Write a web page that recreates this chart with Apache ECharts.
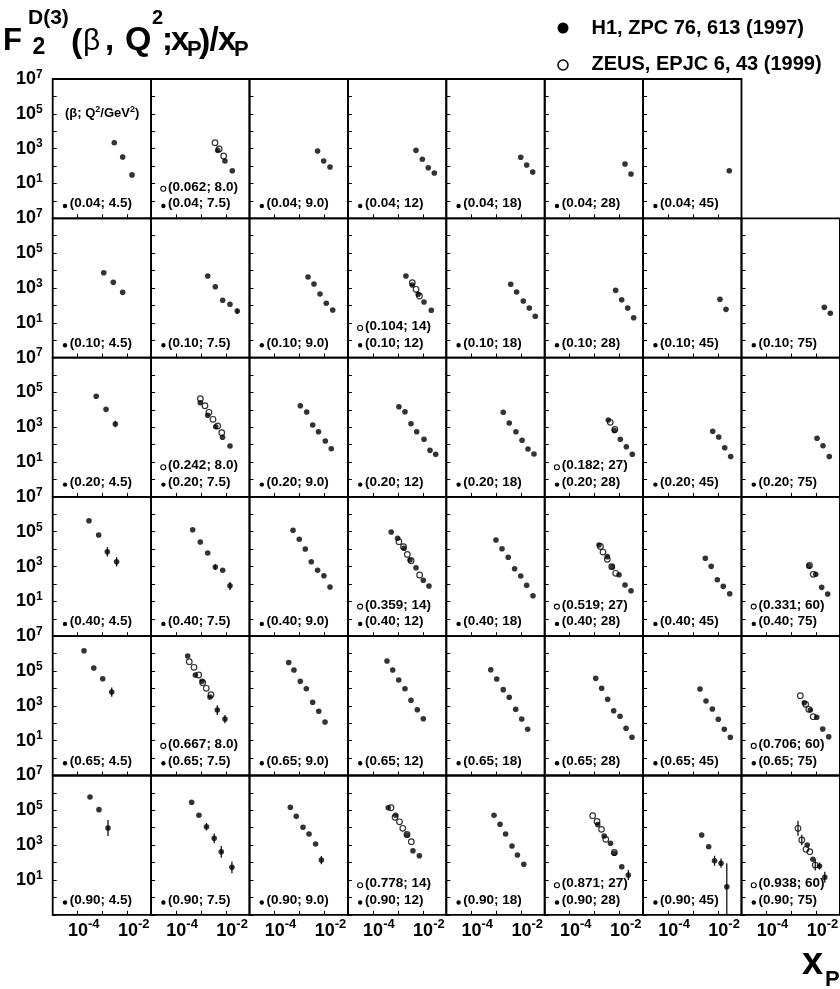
<!DOCTYPE html>
<html><head><meta charset="utf-8">
<script src="https://cdn.jsdelivr.net/npm/echarts/dist/echarts.min.js"></script>
<style>html,body{margin:0;padding:0;background:#fff}#c{width:840px;height:989px}</style>
</head><body><div id="c"></div>
<script>
// ---------------- data ----------------
const BETA = ['0.04','0.10','0.20','0.40','0.65','0.90'];
const Q2   = ['4.5','7.5','9.0','12','18','28','45','75'];
const X_TICK_LABELS = [-4, -2];          // exponents labelled on x
const Y_TICK_LABELS = [7, 5, 3, 1];      // exponents labelled on y

// H1 points [x_P, F2D3/x_P], panel rRcC = row (beta) R, column (Q2) C
const H1_r0c0 = [[2.9e-3,2.2e3],[6.3e-3,330],[1.49e-2,31]];
const H1_r0c1 = [[4.6e-3,800],[9.0e-3,195],[1.77e-2,54]];
const H1_r0c2 = [[5.3e-3,730],[9.3e-3,195],[1.66e-2,88]];
const H1_r0c3 = [[5.3e-3,800],[9.5e-3,244],[1.64e-2,80],[2.86e-2,40]];
const H1_r0c4 = [[9.5e-3,318],[1.64e-2,115],[2.86e-2,45]];
const H1_r0c5 = [[1.63e-2,131],[2.83e-2,35]];
const H1_r0c6 = [[2.8e-2,54]];

const H1_r1c0 = [[1.1e-3,7.5e3],[2.65e-3,2.1e3],[6.3e-3,560]];
const H1_r1c1 = [[1.84e-3,4.85e3],[3.7e-3,1.18e3],[7.3e-3,195],[1.43e-2,115],[2.8e-2,47]];
const H1_r1c2 = [[2.2e-3,4.25e3],[3.8e-3,1.68e3],[6.6e-3,450],[1.18e-2,131],[2.13e-2,54]];
const H1_r1c3 = [[2.1e-3,4.85e3],[3.77e-3,1.48e3],[6.5e-3,431],[1.11e-2,156],[2.17e-2,52]];
const H1_r1c4 = [[3.77e-3,1.62e3],[6.5e-3,585],[1.2e-2,178],[2.09e-2,70],[3.63e-2,23.5]];
const H1_r1c5 = [[6.9e-3,730],[1.2e-2,211],[2.09e-2,70],[3.63e-2,19.5]];
const H1_r1c6 = [[1.19e-2,222],[2.07e-2,59]];
const H1_r1c7 = [[2.05e-2,77],[3.56e-2,35]];

const H1_r2c0 = [[5.5e-4,6.0e4],[1.36e-3,1.07e4],[3.2e-3,1.53e3]];
const H1_r2c1 = [[9.3e-4,2.57e4],[1.84e-3,4.85e3],[3.84e-3,1.07e3],[7.2e-3,264],[1.43e-2,84]];
const H1_r2c2 = [[1.08e-3,1.73e4],[1.94e-3,7.5e3],[3.37e-3,1.35e3],[5.75e-3,555],[1.08e-2,162],[1.87e-2,58]];
const H1_r2c3 = [[1.1e-3,1.51e4],[1.92e-3,7.8e3],[3.34e-3,1.6e3],[5.65e-3,555],[1.11e-2,203],[1.92e-2,47],[3.25e-2,28]];
const H1_r2c4 = [[1.9e-3,7.2e3],[3.3e-3,1.75e3],[6.1e-3,555],[1.07e-2,178],[1.85e-2,56],[3.22e-2,29]];
const H1_r2c5 = [[3.5e-3,2.6e3],[6.1e-3,650],[1.06e-2,203],[1.84e-2,76],[3.19e-2,28]];
const H1_r2c6 = [[6.1e-3,593],[1.06e-2,275],[1.84e-2,67],[3.19e-2,21]];
const H1_r2c7 = [[1.05e-2,232],[1.82e-2,87],[3.25e-2,21]];

const H1_r3c0 = [[2.83e-4,4.3e5],[6.9e-4,6.5e4],[1.53e-3,7.1e3],[3.6e-3,1.9e3]];
const H1_r3c1 = [[4.6e-4,1.31e5],[9.3e-4,2.57e4],[1.84e-3,6.0e3],[3.7e-3,942],[7.3e-3,608],[1.43e-2,79]];
const H1_r3c2 = [[5.5e-4,1.21e5],[9.8e-4,3.67e4],[1.7e-3,1.02e4],[2.96e-3,1.9e3],[5.3e-3,608],[9.5e-3,298],[1.66e-2,67]];
const H1_r3c3 = [[5.4e-4,9.6e4],[9.8e-4,4.2e4],[1.75e-3,1.12e4],[3.05e-3,2.38e3],[5.3e-3,858],[1.04e-2,162],[1.75e-2,76]];
const H1_r3c4 = [[9.7e-4,3.34e4],[1.69e-3,1.06e4],[3.0e-3,3.4e3],[5.4e-3,752],[9.5e-3,286],[1.64e-2,84],[2.94e-2,21]];
const H1_r3c5 = [[1.49e-3,1.73e4],[3.2e-3,3.7e3],[5.06e-3,980],[9.4e-3,340],[1.63e-2,87],[2.83e-2,41]];
const H1_r3c6 = [[3.08e-3,2.97e3],[5.3e-3,1.03e3],[9.3e-3,175],[1.61e-2,73],[2.91e-2,27.5]];
const H1_r3c7 = [[5.0e-3,1.07e3],[9.3e-3,358],[1.61e-2,64],[2.8e-2,26.5]];

const H1_r4c0 = [[1.79e-4,1.47e6],[4.4e-4,1.49e5],[1.0e-3,3.6e4],[2.3e-3,6.2e3]];
const H1_r4c1 = [[2.9e-4,7.3e5],[5.9e-4,5.9e4],[1.09e-3,2.57e4],[2.27e-3,3.2e3],[4.45e-3,577],[9.0e-3,175]];
const H1_r4c2 = [[3.7e-4,3.08e5],[6.0e-4,1.15e5],[1.08e-3,2.57e4],[1.87e-3,9.6e3],[3.37e-3,1.6e3],[5.9e-3,486],[1.05e-2,118]];
const H1_r4c3 = [[3.66e-4,3.77e5],[6.2e-4,1.15e5],[1.08e-3,3.05e4],[1.92e-3,9.6e3],[3.34e-3,2.08e3],[5.97e-3,600],[1.04e-2,183]];
const H1_r4c4 = [[6.0e-4,1.19e5],[1.04e-3,3.48e4],[1.9e-3,8.5e3],[3.3e-3,3.1e3],[5.97e-3,632],[1.04e-2,175],[1.8e-2,45]];
const H1_r4c5 = [[1.1e-3,3.8e4],[1.9e-3,1.02e4],[3.3e-3,2.38e3],[5.75e-3,526],[1.03e-2,251],[1.79e-2,51],[3.1e-2,15.6]];
const H1_r4c6 = [[1.89e-3,9.3e3],[3.28e-3,1.9e3],[5.9e-3,659],[1.02e-2,169],[1.77e-2,45],[3.08e-2,15.6]];
const H1_r4c7 = [[3.25e-3,1.51e3],[5.65e-3,577],[1.02e-2,220],[1.77e-2,47],[3.08e-2,16.9]];

const H1_r5c0 = [[3.1e-4,5.8e5],[7.1e-4,1.09e5],[1.63e-3,9.6e3]];
const H1_r5c1 = [[4.2e-4,2.89e5],[8.2e-4,5.2e4],[1.64e-3,1.15e4],[3.34e-3,2.47e3],[6.4e-3,420],[1.71e-2,53]];
const H1_r5c2 = [[4.3e-4,1.49e5],[7.4e-4,4.5e4],[1.38e-3,1.06e4],[2.4e-3,4.4e3],[4.4e-3,1.16e3],[7.5e-3,140]];
const H1_r5c3 = [[4.1e-4,1.41e5],[8.2e-4,5.2e4],[2.31e-3,3.8e3],[4.0e-3,480],[7.2e-3,247]];
const H1_r5c4 = [[8.1e-4,5.2e4],[1.41e-3,1.6e4],[2.35e-3,4.4e3],[4.25e-3,893],[7.0e-3,272],[1.26e-2,79]];
const H1_r5c5 = [[1.32e-3,1.53e4],[2.4e-3,3.35e3],[4.3e-3,1.28e3],[6.1e-3,340],[1.21e-2,58],[2.21e-2,19.3]];
const H1_r5c6 = [[2.2e-3,3.8e3],[4.2e-3,813],[7.2e-3,128],[1.31e-2,91],[2.23e-2,4.1]];
const H1_r5c7 = [[4.25e-3,1.02e3],[7.2e-3,154],[1.32e-2,63],[2.15e-2,14.2]];

// ZEUS points (open circles)
const ZEUS_r0c1 = [[3.6e-3,2.2e3],[5.3e-3,955],[8.0e-3,378]];
const ZEUS_r1c3 = [[3.77e-3,2.0e3],[5.3e-3,836],[7.3e-3,344]];
const ZEUS_r2c1 = [[9.3e-4,4.36e4],[1.43e-3,1.73e4],[2.07e-3,7.2e3],[3.0e-3,2.86e3],[4.6e-3,1.18e3],[6.7e-3,486]];
const ZEUS_r2c5 = [[4.2e-3,1.92e3],[6.4e-3,742]];
const ZEUS_r3c3 = [[1.1e-3,2.67e4],[1.67e-3,1.38e4],[2.38e-3,5.0e3],[3.4e-3,2.16e3],[7.4e-3,327]];
const ZEUS_r3c5 = [[1.7e-3,1.42e4],[2.15e-3,6.8e3],[3.2e-3,2.6e3],[4.8e-3,980],[6.9e-3,409]];
const ZEUS_r3c7 = [[5.25e-3,1.15e3],[7.4e-3,358]];
const ZEUS_r4c1 = [[3.37e-4,3.43e5],[5.2e-4,1.64e5],[8.0e-4,5.9e4],[1.16e-3,2.13e4],[1.61e-3,1.02e4],[2.49e-3,4.4e3]];
const ZEUS_r4c7 = [[2.25e-3,3.8e3],[3.7e-3,1.22e3],[4.9e-3,632],[7.4e-3,238]];
const ZEUS_r5c3 = [[5.3e-4,1.41e5],[7.7e-4,4.0e4],[1.16e-3,2.2e4],[1.57e-3,9.3e3],[2.31e-3,4.1e3],[3.44e-3,1.58e3]];
const ZEUS_r5c5 = [[8.3e-4,4.9e4],[1.24e-3,2.28e4],[1.87e-3,8.1e3],[2.78e-3,2.16e3],[6.1e-3,378]];
const ZEUS_r5c7 = [[1.82e-3,9.3e3],[2.58e-3,1.97e3],[3.8e-3,577],[5.4e-3,420],[8.9e-3,72]];

// vertical error bars [x_P, low, high] where visible
const ERR_r1c1 = [[2.8e-2,33,66]];
const ERR_r2c0 = [[3.2e-3,1.0e3,2.4e3]];
const ERR_r3c0 = [[1.53e-3,3.8e3,1.3e4],[3.6e-3,1.0e3,3.4e3]];
const ERR_r3c1 = [[3.7e-3,650,1.35e3],[1.43e-2,45,130]];
const ERR_r4c0 = [[2.3e-3,3.3e3,1.15e4]];
const ERR_r4c1 = [[4.45e-3,300,1.1e3],[9.0e-3,100,300]];
const ERR_r5c0 = [[1.63e-3,3.3e3,2.8e4]];
const ERR_r5c1 = [[1.64e-3,7e3,1.9e4],[3.34e-3,1.3e3,4.7e3],[6.4e-3,190,900],[1.71e-2,24,115]];
const ERR_r5c2 = [[7.5e-3,80,240]];
const ERR_r5c5 = [[2.21e-2,10,37]];
const ERR_r5c6 = [[7.2e-3,65,250],[1.31e-2,50,170],[2.23e-2,0.1,90]];
const ERR_r5c7 = [[2.15e-2,7,30],[1.32e-2,40,100],[1.82e-3,3.5e3,2.5e4],[2.58e-3,1.0e3,3.9e3],[8.9e-3,35,150]];

const ZEUS_PANELS = ['0-1','1-3','2-1','2-5','3-3','3-5','3-7','4-1','4-7','5-3','5-5','5-7'];
const ZEUS_BETA   = ['0.062','0.104','0.242','0.182','0.359','0.519','0.331','0.667','0.706','0.778','0.871','0.938'];
const ZEUS_Q2     = ['8.0','14','8.0','27','14','27','60','8.0','60','14','27','60'];
const ZEUS_DATA   = [ZEUS_r0c1,ZEUS_r1c3,ZEUS_r2c1,ZEUS_r2c5,ZEUS_r3c3,ZEUS_r3c5,ZEUS_r3c7,ZEUS_r4c1,ZEUS_r4c7,ZEUS_r5c3,ZEUS_r5c5,ZEUS_r5c7];

const H1_DATA = {
 '0-0':H1_r0c0,'0-1':H1_r0c1,'0-2':H1_r0c2,'0-3':H1_r0c3,'0-4':H1_r0c4,'0-5':H1_r0c5,'0-6':H1_r0c6,
 '1-0':H1_r1c0,'1-1':H1_r1c1,'1-2':H1_r1c2,'1-3':H1_r1c3,'1-4':H1_r1c4,'1-5':H1_r1c5,'1-6':H1_r1c6,'1-7':H1_r1c7,
 '2-0':H1_r2c0,'2-1':H1_r2c1,'2-2':H1_r2c2,'2-3':H1_r2c3,'2-4':H1_r2c4,'2-5':H1_r2c5,'2-6':H1_r2c6,'2-7':H1_r2c7,
 '3-0':H1_r3c0,'3-1':H1_r3c1,'3-2':H1_r3c2,'3-3':H1_r3c3,'3-4':H1_r3c4,'3-5':H1_r3c5,'3-6':H1_r3c6,'3-7':H1_r3c7,
 '4-0':H1_r4c0,'4-1':H1_r4c1,'4-2':H1_r4c2,'4-3':H1_r4c3,'4-4':H1_r4c4,'4-5':H1_r4c5,'4-6':H1_r4c6,'4-7':H1_r4c7,
 '5-0':H1_r5c0,'5-1':H1_r5c1,'5-2':H1_r5c2,'5-3':H1_r5c3,'5-4':H1_r5c4,'5-5':H1_r5c5,'5-6':H1_r5c6,'5-7':H1_r5c7
};
const ERR_DATA = {'1-1':ERR_r1c1,'2-0':ERR_r2c0,'3-0':ERR_r3c0,'3-1':ERR_r3c1,'4-0':ERR_r4c0,'4-1':ERR_r4c1,
 '5-0':ERR_r5c0,'5-1':ERR_r5c1,'5-2':ERR_r5c2,'5-5':ERR_r5c5,'5-6':ERR_r5c6,'5-7':ERR_r5c7};

// ---------------- layout / style ----------------
const FF = '"Liberation Sans", Arial, Helvetica, sans-serif';
const GL = 52.7, GW = 98.4, GT = 79, GH = 139.3;
const XMIN = 1e-5, XMAX = 0.0863, YMIN = 0.1, YMAX = 1e7;

function txt(t, x, yMid, size, weight) {
  return {
    type:'text', x:x, y:yMid, silent:true, z:20,
    style:{text:t, fill:'#000', font:(weight||'bold')+' '+size+'px '+FF,
      align:'left', verticalAlign:'middle', textAlign:'left', textVerticalAlign:'middle'}
  };
}
function base(t, x, baseline, size, weight) { return txt(t, x, baseline - 0.347*size, size, weight); }

const grids=[], xAxes=[], yAxes=[], series=[], graphics=[];
let idx = 0;
for (let r=0; r<BETA.length; r++) {
  for (let c=0; c<Q2.length; c++) {
    const key = r+'-'+c;
    if (!H1_DATA[key]) continue;
    const L = GL + c*GW, T = GT + r*GH;
    grids.push({left:L, top:T, width:GW, height:GH, show:true, borderColor:'#000', borderWidth:1.8,
      backgroundColor:'rgba(0,0,0,0)', containLabel:false, outerBoundsMode:'none'});
    xAxes.push({type:'log', logBase:10, gridIndex:idx, min:XMIN, max:XMAX,
      axisLine:{show:false}, splitLine:{show:false},
      axisTick:{show:true, inside:true, length:4, lineStyle:{color:'#000', width:1}},
      axisLabel:{show:r===BETA.length-1, margin:3.5, padding:[0,0,0,12],
        formatter:function(v){ const e=Math.round(Math.log10(v));
          if (Math.abs(Math.log10(v)-e)>1e-6 || X_TICK_LABELS.indexOf(e)<0) return '';
          return '{b|10}{s|'+e+'}'; },
        rich:{b:{fontSize:18, fontWeight:'bold', fontFamily:FF, color:'#000'},
              s:{fontSize:13, fontWeight:'bold', fontFamily:FF, color:'#000', padding:[0,0,12,0]}}}});
    yAxes.push({type:'log', logBase:10, gridIndex:idx, min:YMIN, max:YMAX,
      axisLine:{show:false}, splitLine:{show:false},
      axisTick:{show:true, inside:true, length:4, lineStyle:{color:'#000', width:1}},
      axisLabel:{show:c===0, margin:10,
        formatter:function(v){ const e=Math.round(Math.log10(v));
          if (Y_TICK_LABELS.indexOf(e)<0) return '';
          return '{b|10}{s|'+e+'}'; },
        rich:{b:{fontSize:18, fontWeight:'bold', fontFamily:FF, color:'#000'},
              s:{fontSize:12, fontWeight:'bold', fontFamily:FF, color:'#000', padding:[0,0,9,0]}}}});
    if (ERR_DATA[key]) {
      series.push({type:'custom', xAxisIndex:idx, yAxisIndex:idx, data:ERR_DATA[key], clip:true, silent:true, z:2,
        encode:{x:0, y:[1,2]},
        renderItem:function(params, api){
          const a = api.coord([api.value(0), api.value(1)]);
          const b = api.coord([api.value(0), api.value(2)]);
          return {type:'line', shape:{x1:a[0], y1:a[1], x2:b[0], y2:b[1]}, style:{stroke:'#000', lineWidth:1.2}};
        }});
    }
    series.push({type:'scatter', xAxisIndex:idx, yAxisIndex:idx, data:H1_DATA[key],
      symbol:'circle', symbolSize:5.6, itemStyle:{color:'#000'}, silent:true, z:3, animation:false});
    const zi = ZEUS_PANELS.indexOf(key);
    if (zi >= 0) {
      series.push({type:'scatter', xAxisIndex:idx, yAxisIndex:idx, data:ZEUS_DATA[zi],
        symbol:'circle', symbolSize:5.6, itemStyle:{color:'rgba(0,0,0,0)', borderColor:'#000', borderWidth:1.2},
        silent:true, z:4, animation:false});
      graphics.push({type:'circle', shape:{cx:L+12.2, cy:T+109.7, r:2.5}, silent:true, z:20,
        style:{fill:'#fff', stroke:'#000', lineWidth:1.1}});
      graphics.push(txt('('+ZEUS_BETA[zi]+'; '+ZEUS_Q2[zi]+')', L+17, T+108, 13.5));
    }
    graphics.push({type:'circle', shape:{cx:L+12.3, cy:T+127, r:2.2}, silent:true, z:20, style:{fill:'#000'}});
    graphics.push(txt('('+BETA[r]+'; '+Q2[c]+')', L+17, T+124.7, 13.5));
    if (r===0 && c===0) {
      graphics.push({type:'text', x:L+12.3, y:T+34, silent:true, z:20,
        style:{text:'{a|(β; Q}{s|2}{a|/GeV}{s|2}{a|)}', fill:'#000', align:'left', verticalAlign:'middle',
          textAlign:'left', textVerticalAlign:'middle',
          rich:{a:{fontSize:13, fontWeight:'bold', fontFamily:FF, fill:'#000', color:'#000'},
                s:{fontSize:9, fontWeight:'bold', fontFamily:FF, fill:'#000', color:'#000', padding:[0,0,7,0]}}}});
    }
    idx++;
  }
}

// title F2^D(3)(beta,Q2;xP)/xP
[
 ['F',3,52.5,31],['D(3)',28,25,21],['2',32.5,55.5,23],
 ['(',71,54,34],['β',83,52.5,30,'normal'],[',',105,52.5,33],['Q',125,52.5,34],
 ['2',152,25.5,20],[';',162,52.5,33],['x',171,52.5,33],['P',187,57.5,22],
 [')',199,54,34],['/',209.5,52.5,33],['x',218,52.5,33],['P',234,57.5,22]
].forEach(p => graphics.push(base(p[0], p[1], p[2], p[3], p[4])));

// legend
graphics.push({type:'circle', shape:{cx:563, cy:28, r:5.5}, silent:true, z:20, style:{fill:'#000'}});
graphics.push(txt('H1, ZPC 76, 613 (1997)', 591.5, 28.3, 20));
graphics.push({type:'circle', shape:{cx:563, cy:65, r:5}, silent:true, z:20, style:{fill:'#fff', stroke:'#000', lineWidth:1.5}});
graphics.push(txt('ZEUS, EPJC 6, 43 (1999)', 591.5, 64.7, 20));

// x-axis title x_P
graphics.push(base('x', 802, 977, 38));
graphics.push(base('P', 825, 988, 22));

const chart = echarts.init(document.getElementById('c'), null, {renderer:'canvas'});
chart.setOption({
  animation:false, backgroundColor:'#fff',
  grid:grids, xAxis:xAxes, yAxis:yAxes, series:series,
  graphic:{elements:graphics}
});
</script></body></html>
